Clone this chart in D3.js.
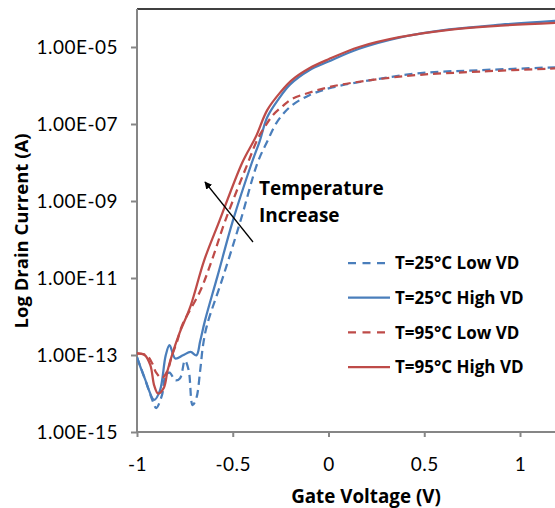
<!DOCTYPE html>
<html>
<head>
<meta charset="utf-8">
<script src="https://cdn.jsdelivr.net/npm/d3@7"></script>
<style>
  body { margin: 0; background: #fff; }
  svg { display: block; font-family: "Open Sans", Lato, sans-serif; }
</style>
</head>
<body>
<script>
// gate voltage (V) and drain current (A)
const vRed95High = [-1, -0.96, -0.93, -0.91, -0.89, -0.86, -0.84, -0.81, -0.78, -0.72, -0.65, -0.57, -0.45, -0.38, -0.32, -0.25, -0.19, -0.1, 0, 0.16, 0.37, 0.63, 0.9, 1.2];
const iRed95High = [1.1e-13, 1.0e-13, 5.4e-14, 1.6e-14, 1.0e-14, 1.4e-14, 4.0e-14, 1.3e-13, 3.5e-13, 1.9e-12, 2.8e-11, 3.0e-10, 1.0e-8, 4.6e-8, 2.3e-7, 6.8e-7, 1.4e-6, 2.8e-6, 4.8e-6, 1.0e-5, 1.8e-5, 2.8e-5, 3.6e-5, 4.3e-5];

const vBlue25High = [-1, -0.96, -0.91, -0.88, -0.85, -0.83, -0.8, -0.76, -0.72, -0.69, -0.67, -0.645, -0.58, -0.5, -0.4, -0.36, -0.32, -0.26, -0.2, -0.1, 0, 0.16, 0.37, 0.63, 0.9, 1.2];
const iBlue25High = [8.7e-14, 2.5e-14, 6.8e-15, 1.2e-14, 9.8e-14, 1.8e-13, 8.1e-14, 9.8e-14, 1.2e-13, 9.8e-14, 2.3e-13, 7.8e-13, 1.1e-11, 3.0e-10, 1.0e-8, 3.5e-8, 1.5e-7, 4.5e-7, 1.07e-6, 2.5e-6, 4.2e-6, 9.0e-6, 1.75e-5, 2.85e-5, 3.8e-5, 4.8e-5];

const vRed95Low = [-1, -0.95, -0.92, -0.9, -0.87, -0.84, -0.82, -0.79, -0.765, -0.67, -0.61, -0.54, -0.42, -0.37, -0.33, -0.29, -0.24, -0.19, -0.11, 0.02, 0.23, 0.48, 0.79, 1.2];
const iRed95Low = [1.1e-13, 9.8e-14, 6.0e-14, 3.5e-14, 2.5e-14, 4.0e-14, 8.7e-14, 2.3e-13, 5.8e-13, 4.6e-12, 2.8e-11, 3.0e-10, 1.0e-8, 4.1e-8, 8.9e-8, 1.7e-7, 2.9e-7, 4.5e-7, 6.3e-7, 9.5e-7, 1.4e-6, 1.9e-6, 2.3e-6, 2.8e-6];

const vBlue25Low = [-1, -0.96, -0.92, -0.9, -0.87, -0.85, -0.83, -0.8, -0.775, -0.75, -0.73, -0.71, -0.69, -0.67, -0.655, -0.635, -0.55, -0.46, -0.37, -0.32, -0.27, -0.2, -0.1, 0.02, 0.23, 0.48, 0.79, 1.2];
const iBlue25Low = [8.7e-14, 2.5e-14, 6.8e-15, 4.2e-15, 8.9e-15, 3.0e-14, 3.5e-14, 2.2e-14, 2.5e-14, 7.2e-14, 4.0e-14, 5.0e-15, 7.6e-15, 4.0e-14, 1.8e-13, 5.8e-13, 1.1e-11, 3.0e-10, 1.0e-8, 3.5e-8, 1.1e-7, 2.8e-7, 5.6e-7, 8.9e-7, 1.4e-6, 2.1e-6, 2.5e-6, 3.0e-6];

const xTicks = [-1, -0.5, 0, 0.5, 1];
const yTicks = [1e-15, 1e-13, 1e-11, 1e-9, 1e-7, 1e-5];
const yTickLabels = ["1.00E-15", "1.00E-13", "1.00E-11", "1.00E-09", "1.00E-07", "1.00E-05"];

const legendNames = ["T=25°C Low VD", "T=25°C High VD", "T=95°C Low VD", "T=95°C High VD"];

const width = 555;
const height = 508;
const blue = "#4a7ebb";
const red = "#be4b48";

const series = [
  { name: legendNames[0], v: vBlue25Low, i: iBlue25Low, color: blue, dash: "8,5" },
  { name: legendNames[1], v: vBlue25High, i: iBlue25High, color: blue, dash: null },
  { name: legendNames[2], v: vRed95Low, i: iRed95Low, color: red, dash: "8,5" },
  { name: legendNames[3], v: vRed95High, i: iRed95High, color: red, dash: null },
];

const xScale = d3.scaleLinear().domain([-1, 1]).range([137, 520]);
const yScale = d3.scaleLog().domain([1e-15, 1e-5]).range([432, 47]);

const plotTop = 9;
const plotLeft = 137;
const plotBottom = 432;

const svg = d3
  .select("body")
  .append("svg")
  .attr("width", width)
  .attr("height", height);

svg
  .append("clipPath")
  .attr("id", "plot-clip")
  .append("rect")
  .attr("x", plotLeft)
  .attr("y", plotTop)
  .attr("width", width - plotLeft)
  .attr("height", plotBottom - plotTop);

// top frame line
svg
  .append("line")
  .attr("x1", plotLeft)
  .attr("x2", width)
  .attr("y1", plotTop)
  .attr("y2", plotTop)
  .attr("stroke", "#000")
  .attr("stroke-width", 1.5);

const xAxis = d3
  .axisBottom(xScale)
  .tickValues(xTicks)
  .tickSize(5)
  .tickPadding(21)
  .tickFormat((d) => String(d));

const yAxis = d3
  .axisLeft(yScale)
  .tickValues(yTicks)
  .tickSize(6)
  .tickPadding(13)
  .tickFormat((d, i) => yTickLabels[i]);

const xg = svg
  .append("g")
  .attr("transform", `translate(0 ${plotBottom})`)
  .call(xAxis);
xg.select(".domain").attr("d", `M${plotLeft},0H${width}`);

const yg = svg
  .append("g")
  .attr("transform", `translate(${plotLeft} 0)`)
  .call(yAxis);
yg.select(".domain").attr("d", `M0,${plotTop}V${plotBottom}`);

svg.selectAll(".domain, .tick line").attr("stroke", "#868686").attr("stroke-width", 2);
svg
  .selectAll(".tick text")
  .attr("fill", "#000")
  .attr("font-size", 19)
  .attr("letter-spacing", 0.5)
  .attr("font-family", "Lato, sans-serif");

// curves
const line = d3
  .line()
  .x((d) => xScale(d[0]))
  .y((d) => yScale(d[1]))
  .curve(d3.curveCatmullRom.alpha(0.5));

const plot = svg.append("g").attr("clip-path", "url(#plot-clip)");

plot
  .selectAll("path")
  .data(series)
  .enter()
  .append("path")
  .attr("fill", "none")
  .attr("stroke", (d) => d.color)
  .attr("stroke-width", 2.25)
  .attr("stroke-dasharray", (d) => d.dash)
  .attr("d", (d) => line(d3.zip(d.v, d.i)));

// axis titles
svg
  .append("text")
  .attr("x", 366)
  .attr("y", 503)
  .attr("text-anchor", "middle")
  .attr("font-weight", "bold")
  .attr("font-size", 18.8)
  .text("Gate Voltage (V)");

svg
  .append("text")
  .attr("transform", "translate(28 231) rotate(-90)")
  .attr("text-anchor", "middle")
  .attr("font-weight", "bold")
  .attr("font-size", 18.5)
  .text("Log Drain Current (A)");

// legend
const legend = svg
  .selectAll(".legend")
  .data(series)
  .enter()
  .append("g")
  .attr("class", "legend")
  .attr("transform", (d, i) => `translate(348 ${263 + i * 34.7})`);

legend
  .append("line")
  .attr("x1", 0)
  .attr("x2", 42)
  .attr("stroke", (d) => d.color)
  .attr("stroke-width", 2.25)
  .attr("stroke-dasharray", (d) => (d.dash ? "8,6.5" : null));

legend
  .append("text")
  .attr("x", 47)
  .attr("dy", "0.36em")
  .attr("font-weight", "bold")
  .attr("font-size", 17)
  .text((d) => d.name);

// annotation
svg
  .append("defs")
  .append("marker")
  .attr("id", "arrow")
  .attr("viewBox", "0 0 10 10")
  .attr("refX", 9)
  .attr("refY", 5)
  .attr("markerWidth", 6)
  .attr("markerHeight", 6)
  .attr("orient", "auto")
  .append("path")
  .attr("d", "M0,0L10,5L0,10z")
  .attr("fill", "#000");

svg
  .append("line")
  .attr("x1", 253)
  .attr("y1", 242)
  .attr("x2", 205)
  .attr("y2", 182)
  .attr("stroke", "#000")
  .attr("stroke-width", 1.25)
  .attr("marker-end", "url(#arrow)");

svg
  .append("text")
  .attr("x", 259)
  .attr("y", 195)
  .attr("font-weight", "bold")
  .attr("font-size", 19)
  .text("Temperature");

svg
  .append("text")
  .attr("x", 259)
  .attr("y", 222)
  .attr("font-weight", "bold")
  .attr("font-size", 19)
  .text("Increase");
</script>
</body>
</html>
